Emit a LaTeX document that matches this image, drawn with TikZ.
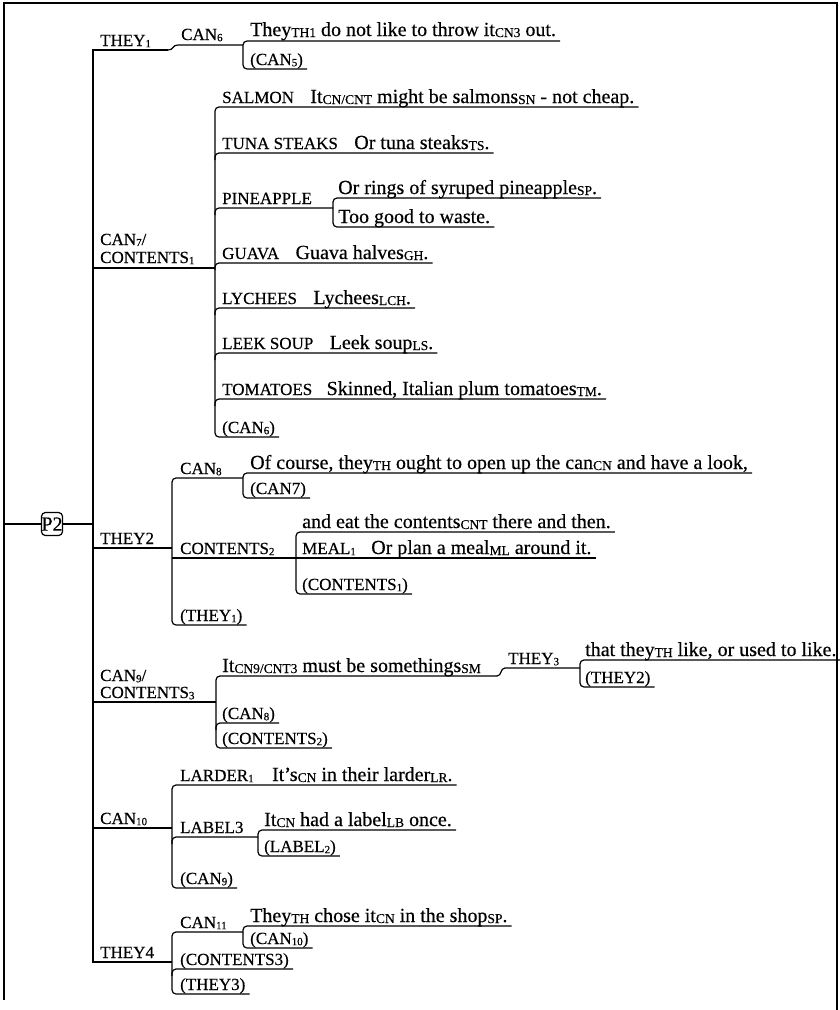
\documentclass[tikz,border=0pt]{standalone}
\usepackage{fontspec}
\setmainfont{Liberation Serif}[FakeBold=0.45]
\usetikzlibrary{calc}
\newcommand\lblfont{\fontsize{17}{18}\selectfont}
\newcommand\sntfont{\fontsize{20}{21}\selectfont}
% small lowered indices: in labels and in sentences
\newcommand\lsub[1]{\raisebox{-1.2pt}{\fontsize{11}{11}\selectfont #1}}
\newcommand\tsub[1]{\raisebox{-1pt}{\fontsize{13.5}{13.5}\selectfont #1}}
\tikzset{
  lbl/.style={font=\lblfont, inner sep=0pt, anchor=base west},
  snt/.style={font=\sntfont, inner sep=0pt, anchor=base west},
  wire/.style={line width=1.2pt, draw=black},
  brace/.style={wire, rounded corners=4pt},
  pbox/.style={draw, line width=1.2pt, rounded corners=4pt, font=\fontsize{20}{20}\selectfont,
               inner sep=0pt, minimum width=21pt, minimum height=23pt},
}
\begin{document}
\begin{tikzpicture}[x=1pt, y=-1pt]
\useasboundingbox (0,0) rectangle (839,1010);
% frame
\draw[wire] (4,1000) -- (4,3) -- (837,3) -- (837,1010);

% root and spine
\node[pbox] (p2) at (52,524) {P2};
\draw[wire] (4,524) -- (p2.west);
\draw[wire] (p2.east) -- (93,524);
\draw[wire] (168,50) -- (93,50) -- (93,962) -- (172,962);

% ---- THEY1 ----
\node[lbl] (they1) at (100,46) {THEY\lsub{1}};
\node[lbl] (can6) at (181,40) {CAN\lsub{6}};
\node[snt] (s-throw) at (250,36) {They\tsub{TH1} do not like to throw it\tsub{CN3} out.};
\node[lbl] (can5) at (250,65) {(CAN\lsub{5})};
\draw[wire] (168,50) .. controls (174,50) and (172,45) .. (178,45) -- (243,45);
\draw[brace] ($(s-throw.east |- 0,41)+(4,0)$) -- (243,41) -- (243,69) -- ($(can5.east |- 0,69)+(4,0)$);

% ---- CAN7 / CONTENTS1 ----
\node[lbl] (can7a) at (100,245) {CAN\lsub{7}/};
\node[lbl] (can7b) at (100,263) {CONTENTS\lsub{1}};
\draw[wire] (93,268) -- (215,268);

\node[lbl] (salmon) at (222,103) {SALMON};
\node[snt] (s-salmon) at ($(salmon.base east)+(16,0)$) {It\tsub{CN/CNT} might be salmons\tsub{SN} - not cheap.};
\node[lbl] (tuna) at (222,149) {TUNA STEAKS};
\node[snt] (s-tuna) at ($(tuna.base east)+(16,0)$) {Or tuna steaks\tsub{TS}.};
\node[lbl] (pine) at (222,204) {PINEAPPLE};
\node[snt] (s-rings) at (338,194) {Or rings of syruped pineapple\tsub{SP}.};
\node[snt] (s-waste) at (338,223) {Too good to waste.};
\node[lbl] (guava) at (222,259) {GUAVA};
\node[snt] (s-guava) at ($(guava.base east)+(16,0)$) {Guava halves\tsub{GH}.};
\node[lbl] (lych) at (222,304) {LYCHEES};
\node[snt] (s-lych) at ($(lych.base east)+(16,0)$) {Lychees\tsub{LCH}.};
\node[lbl] (leek) at (222,349) {LEEK SOUP};
\node[snt] (s-leek) at ($(leek.base east)+(16,0)$) {Leek soup\tsub{LS}.};
\node[lbl] (tom) at (222,395) {TOMATOES};
\node[snt] (s-tom) at ($(tom.base east)+(14,0)$) {Skinned, Italian plum tomatoes\tsub{TM}.};
\node[lbl] (can6r) at (222,433) {(CAN\lsub{6})};

\draw[brace] ($(s-salmon.east |- 0,107)+(4,0)$) -- (215,107) -- (215,437) -- ($(can6r.east |- 0,437)+(4,0)$);
\draw[brace] (215,160) -- (215,153) -- ($(s-tuna.east |- 0,153)+(4,0)$);
\draw[brace] (215,215) -- (215,208) -- (333,208);
\draw[brace] ($(s-rings.east |- 0,198)+(4,0)$) -- (333,198) -- (333,227) -- ($(s-waste.east |- 0,227)+(4,0)$);
\draw[brace] (215,270) -- (215,263) -- ($(s-guava.east |- 0,263)+(4,0)$);
\draw[brace] (215,315) -- (215,308) -- ($(s-lych.east |- 0,308)+(4,0)$);
\draw[brace] (215,360) -- (215,353) -- ($(s-leek.east |- 0,353)+(4,0)$);
\draw[brace] (215,406) -- (215,399) -- ($(s-tom.east |- 0,399)+(4,0)$);

% ---- THEY2 ----
\node[lbl] (they2) at (100,544) {THEY2};
\draw[wire] (93,548) -- (172,548);
\node[lbl] (can8) at (180,474) {CAN\lsub{8}};
\node[snt] (s-course) at (250,469) {Of course, they\tsub{TH} ought to open up the can\tsub{CN} and have a look,};
\node[lbl] (can7r) at (250,494) {(CAN7)};
\draw[brace] ($(s-course.east |- 0,473)+(4,0)$) -- (243,473) -- (243,498) -- ($(can7r.east |- 0,498)+(4,0)$);
\node[lbl] (cont2) at (180,554) {CONTENTS\lsub{2}};
\node[snt] (s-eat) at (302,528) {and eat the contents\tsub{CNT} there and then.};
\node[lbl] (meal) at (302,554) {MEAL\lsub{1}};
\node[snt] (s-meal) at ($(meal.base east)+(15,0)$) {Or plan a meal\tsub{ML} around it.};
\node[lbl] (cont1r) at (302,590) {(CONTENTS\lsub{1})};
\draw[wire] (172,558) -- ($(s-meal.east |- 0,558)+(4,0)$);
\draw[brace] ($(s-eat.east |- 0,532)+(4,0)$) -- (296,532) -- (296,594) -- ($(cont1r.east |- 0,594)+(4,0)$);
\node[lbl] (they1r) at (180,621) {(THEY\lsub{1})};
\draw[brace] (243,478) -- (172,478) -- (172,625) -- ($(they1r.east |- 0,625)+(4,0)$);

% ---- CAN9 / CONTENTS3 ----
\node[lbl] (can9a) at (100,681) {CAN\lsub{9}/};
\node[lbl] (can9b) at (100,698) {CONTENTS\lsub{3}};
\draw[wire] (93,702) -- (216,702);
\node[snt] (s-some) at (222,672) {It\tsub{CN9/CNT3} must be somethings\tsub{SM}};
\node[lbl] (they3) at (508,664) {THEY\lsub{3}};
\node[snt] (s-like) at (585,656) {that they\tsub{TH} like, or used to like.};
\node[lbl] (they2r) at (585,683) {(THEY2)};
\node[lbl] (can8r) at (222,719) {(CAN\lsub{8})};
\node[lbl] (cont2r) at (222,744) {(CONTENTS\lsub{2})};
\draw[brace] (497,676) -- (216,676) -- (216,748) -- ($(cont2r.east |- 0,748)+(4,0)$);
\draw[brace] (216,730) -- (216,723) -- ($(can8r.east |- 0,723)+(4,0)$);
\draw[wire] (497,676) .. controls (502,676) and (500,668) .. (505,668) -- (580,668);
\draw[brace] ($(s-like.east |- 0,660)+(4,0)$) -- (580,660) -- (580,687) -- ($(they2r.east |- 0,687)+(4,0)$);

% ---- CAN10 ----
\node[lbl] (can10) at (100,824) {CAN\lsub{10}};
\draw[wire] (93,828) -- (172,828);
\node[lbl] (larder) at (180,781) {LARDER\lsub{1}};
\node[snt] (s-larder) at ($(larder.base east)+(18,0)$) {It's\tsub{CN} in their larder\tsub{LR}.};
\node[lbl] (label3) at (180,833) {LABEL3};
\node[snt] (s-label) at (264,826) {It\tsub{CN} had a label\tsub{LB} once.};
\node[lbl] (label2) at (264,852) {(LABEL\lsub{2})};
\node[lbl] (can9r) at (180,884) {(CAN\lsub{9})};
\draw[brace] ($(s-larder.east |- 0,785)+(4,0)$) -- (172,785) -- (172,888) -- ($(can9r.east |- 0,888)+(4,0)$);
\draw[brace] (172,844) -- (172,837) -- (258,837);
\draw[brace] ($(s-label.east |- 0,830)+(4,0)$) -- (258,830) -- (258,856) -- ($(label2.east |- 0,856)+(4,0)$);

% ---- THEY4 ----
\node[lbl] (they4) at (100,958) {THEY4};
\node[lbl] (can11) at (180,928) {CAN\lsub{11}};
\node[snt] (s-chose) at (250,922) {They\tsub{TH} chose it\tsub{CN} in the shop\tsub{SP}.};
\node[lbl] (can10r) at (250,944) {(CAN\lsub{10})};
\node[lbl] (cont3r) at (180,965) {(CONTENTS3)};
\node[lbl] (they3r) at (180,990) {(THEY3)};
\draw[brace] (243,932) -- (172,932) -- (172,994) -- ($(they3r.east |- 0,994)+(4,0)$);
\draw[brace] (172,976) -- (172,969) -- ($(cont3r.east |- 0,969)+(4,0)$);
\draw[brace] ($(s-chose.east |- 0,926)+(4,0)$) -- (243,926) -- (243,948) -- ($(can10r.east |- 0,948)+(4,0)$);
\end{tikzpicture}
\end{document}
